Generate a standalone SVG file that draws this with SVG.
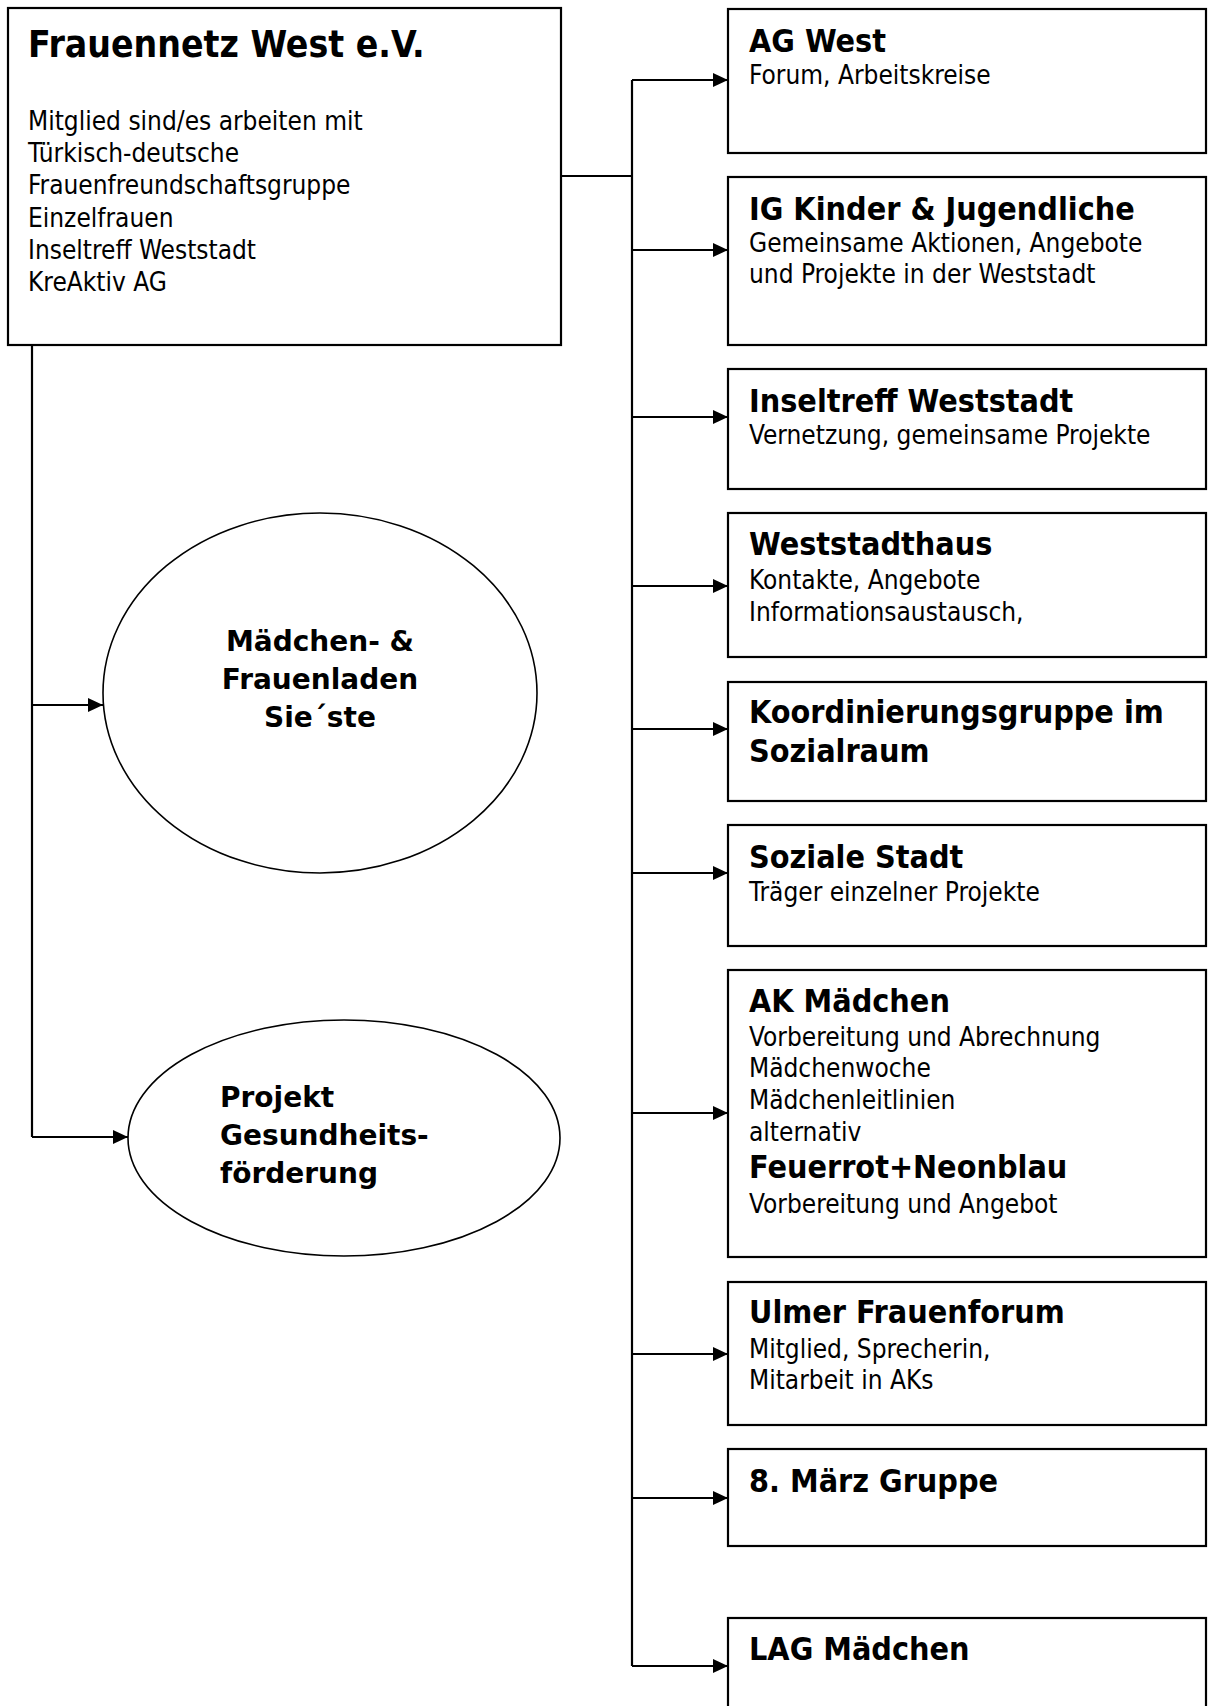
<svg xmlns="http://www.w3.org/2000/svg" width="1208" height="1706" viewBox="0 0 1208 1706">
<defs>
<marker id="ah" markerUnits="userSpaceOnUse" markerWidth="15" markerHeight="14" viewBox="0 0 15 14" refX="15" refY="7" orient="auto">
<path d="M0,0 L15,7 L0,14 z" fill="#000"/>
</marker>
</defs>
<style>
.box{fill:#fff;stroke:#000;stroke-width:2.2}
.ell{fill:#fff;stroke:#000;stroke-width:1.6}
.ln{fill:none;stroke:#000;stroke-width:2.2}
.ar{fill:none;stroke:#000;stroke-width:2.2;marker-end:url(#ah)}
text{font-family:"DejaVu Sans Condensed","DejaVu Sans",sans-serif;font-stretch:condensed;fill:#000}
.h0{font-size:37px;font-weight:bold}
.h{font-size:32px;font-weight:bold}
.b{font-size:26px}
.e{font-family:"DejaVu Sans",sans-serif;font-stretch:normal;font-size:28px;font-weight:bold}
</style>
<rect width="1208" height="1706" fill="#fff"/>
<g id="connectors">
<path class="ln" d="M562,176 H632"/>
<path class="ln" d="M632,80 V1666"/>
<path class="ar" d="M632,80 H728"/>
<path class="ar" d="M632,250 H728"/>
<path class="ar" d="M632,417 H728"/>
<path class="ar" d="M632,586 H728"/>
<path class="ar" d="M632,729 H728"/>
<path class="ar" d="M632,873 H728"/>
<path class="ar" d="M632,1113 H728"/>
<path class="ar" d="M632,1354 H728"/>
<path class="ar" d="M632,1498 H728"/>
<path class="ar" d="M632,1666 H728"/>
<path class="ln" d="M32,345 V1137"/>
<path class="ar" d="M32,705 H103"/>
<path class="ar" d="M32,1137 H128"/>
</g>
<g id="frauennetz">
<rect class="box" x="8" y="8" width="553" height="337"/>
<text class="h0" x="28" y="57">Frauennetz West e.V.</text>
<text class="b" x="28" y="130">Mitglied sind/es arbeiten mit</text>
<text class="b" x="28" y="162">Türkisch-deutsche</text>
<text class="b" x="28" y="194">Frauenfreundschaftsgruppe</text>
<text class="b" x="28" y="227">Einzelfrauen</text>
<text class="b" x="28" y="259">Inseltreff Weststadt</text>
<text class="b" x="28" y="291">KreAktiv AG</text>
</g>
<g id="maedchenladen">
<ellipse class="ell" cx="320" cy="693" rx="217" ry="180"/>
<text class="e" x="320" y="651" text-anchor="middle">Mädchen- &amp;</text>
<text class="e" x="320" y="689" text-anchor="middle">Frauenladen</text>
<text class="e" x="320" y="727" text-anchor="middle">Sie´ste</text>
</g>
<g id="gesundheit">
<ellipse class="ell" cx="344" cy="1138" rx="216" ry="118"/>
<text class="e" x="220" y="1107">Projekt</text>
<text class="e" x="220" y="1145">Gesundheits-</text>
<text class="e" x="220" y="1183">förderung</text>
</g>
<g id="agwest">
<rect class="box" x="728" y="9" width="478" height="144"/>
<text class="h" x="749" y="52">AG West</text>
<text class="b" x="749" y="84">Forum, Arbeitskreise</text>
</g>
<g id="igkinder">
<rect class="box" x="728" y="177" width="478" height="168"/>
<text class="h" x="749" y="220">IG Kinder &amp; Jugendliche</text>
<text class="b" x="749" y="252">Gemeinsame Aktionen, Angebote</text>
<text class="b" x="749" y="283">und Projekte in der Weststadt</text>
</g>
<g id="inseltreff">
<rect class="box" x="728" y="369" width="478" height="120"/>
<text class="h" x="749" y="412">Inseltreff Weststadt</text>
<text class="b" x="749" y="444">Vernetzung, gemeinsame Projekte</text>
</g>
<g id="weststadthaus">
<rect class="box" x="728" y="513" width="478" height="144"/>
<text class="h" x="749" y="555">Weststadthaus</text>
<text class="b" x="749" y="589">Kontakte, Angebote</text>
<text class="b" x="749" y="621">Informationsaustausch,</text>
</g>
<g id="koordinierung">
<rect class="box" x="728" y="682" width="478" height="119"/>
<text class="h" x="749" y="723">Koordinierungsgruppe im</text>
<text class="h" x="749" y="762">Sozialraum</text>
</g>
<g id="sozialestadt">
<rect class="box" x="728" y="825" width="478" height="121"/>
<text class="h" x="749" y="868">Soziale Stadt</text>
<text class="b" x="749" y="901">Träger einzelner Projekte</text>
</g>
<g id="akmaedchen">
<rect class="box" x="728" y="970" width="478" height="287"/>
<text class="h" x="749" y="1012">AK Mädchen</text>
<text class="b" x="749" y="1046">Vorbereitung und Abrechnung</text>
<text class="b" x="749" y="1077">Mädchenwoche</text>
<text class="b" x="749" y="1109">Mädchenleitlinien</text>
<text class="b" x="749" y="1141">alternativ</text>
<text class="h" x="749" y="1178">Feuerrot+Neonblau</text>
<text class="b" x="749" y="1213">Vorbereitung und Angebot</text>
</g>
<g id="ulmer">
<rect class="box" x="728" y="1282" width="478" height="143"/>
<text class="h" x="749" y="1323">Ulmer Frauenforum</text>
<text class="b" x="749" y="1358">Mitglied, Sprecherin,</text>
<text class="b" x="749" y="1389">Mitarbeit in AKs</text>
</g>
<g id="maerz">
<rect class="box" x="728" y="1449" width="478" height="97"/>
<text class="h" x="749" y="1492">8. März Gruppe</text>
</g>
<g id="lag">
<rect class="box" x="728" y="1618" width="478" height="110"/>
<text class="h" x="749" y="1660">LAG Mädchen</text>
</g>
</svg>
